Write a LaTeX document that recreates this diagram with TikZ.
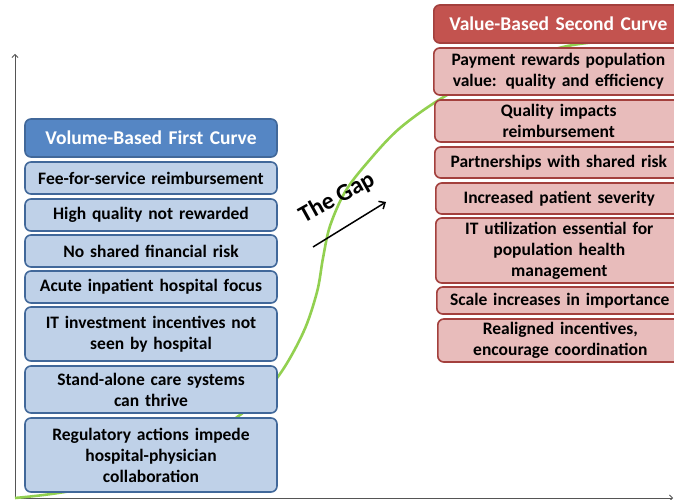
\documentclass[tikz,border=0pt]{standalone}
\usepackage{fontspec}
\setmainfont{Carlito}
\usetikzlibrary{arrows.meta}
\definecolor{bluehead}{HTML}{5586C4}
\definecolor{blueedge}{HTML}{41689A}
\definecolor{bluefill}{HTML}{BFD1E8}
\definecolor{redhead}{HTML}{C3534F}
\definecolor{rededge}{HTML}{A3403D}
\definecolor{redfill}{HTML}{E8BCBB}
\definecolor{curvegreen}{HTML}{92D050}
\definecolor{axisgray}{HTML}{555555}
\tikzset{
  box/.style={draw, rounded corners=6pt, line width=1.6pt, align=center, inner sep=0pt,
    font=\bfseries\fontsize{17.5}{21}\selectfont, text=black},
  lbox/.style={box, draw=blueedge, fill=bluefill, minimum width=252pt, text width=248pt},
  lhead/.style={lbox, fill=bluehead, text=white, font=\bfseries\fontsize{19.5}{22}\selectfont},
  rbox/.style={box, draw=rededge, fill=redfill, anchor=west},
  rhead/.style={rbox, fill=redhead, text=white, font=\bfseries\fontsize{19.5}{22}\selectfont},
  axis/.style={draw=axisgray, line width=0.8pt, -{Straight Barb[length=3pt,width=6pt]}},
}
\begin{document}
\begin{tikzpicture}[x=1pt,y=-1pt]
\useasboundingbox (0,0) rectangle (674,500);
\fill[white] (0,0) rectangle (674,500);
% axes
\coordinate (o) at (15,498);
\coordinate (ytop) at (15,54);
\coordinate (xend) at (673,498);
\draw[axis] (o) -- (ytop);
\draw[axis] (o) -- (xend);
% S-curve
\draw[curvegreen, line width=2.6pt] plot[smooth, tension=0.55] coordinates {
 (15,498) (80,489) (160,463) (240,415) (277,378) (303,333) (317,292)
 (323,258) (330,226) (345,192) (367,163) (400,128) (447,95) (505,67) (563,47) (620,40) (690,36)};
% left column
\node[lhead, minimum height=38pt] (lh) at (151,138) {Volume-Based First Curve};
\node[lbox, minimum height=32pt] (l1) at (151,178) {Fee-for-service reimbursement};
\node[lbox, minimum height=32pt] (l2) at (151,215) {High quality not rewarded};
\node[lbox, minimum height=32pt] (l3) at (151,251) {No shared financial risk};
\node[lbox, minimum height=32pt] (l4) at (151,287) {Acute inpatient hospital focus};
\node[lbox, minimum height=54pt] (l5) at (151,334) {IT investment incentives not\\seen by hospital};
\node[lbox, minimum height=47pt] (l6) at (151,389.5) {Stand-alone care systems\\can thrive};
\node[lbox, minimum height=74pt] (l7) at (151,455) {Regulatory actions impede\\hospital-physician\\collaboration};
% right column
\node[rhead, minimum height=38pt, minimum width=249pt, text width=245pt] (rh) at (433,24) {Value-Based Second Curve};
\node[rbox, minimum height=47pt, minimum width=249pt, text width=245pt] (r1) at (433,71.5) {Payment rewards population\\value: quality and efficiency};
\node[rbox, minimum height=42pt, minimum width=248pt, text width=244pt] (r2) at (434,121) {Quality impacts\\reimbursement};
\node[rbox, minimum height=31pt, minimum width=248pt, text width=244pt] (r3) at (434,162.5) {Partnerships with shared risk};
\node[rbox, minimum height=31pt, minimum width=247pt, text width=243pt] (r4) at (435,198.5) {Increased patient severity};
\node[rbox, minimum height=65pt, minimum width=247pt, text width=243pt] (r5) at (435,250.5) {IT utilization essential for\\population health\\management};
\node[rbox, minimum height=27pt, minimum width=246pt, text width=242pt] (r6) at (436,300.5) {Scale increases in importance};
\node[rbox, minimum height=43pt, minimum width=245pt, text width=241pt] (r7) at (437,340.5) {Realigned incentives,\\encourage coordination};
% the gap
\node[font=\bfseries\fontsize{24}{26}\selectfont, rotate=29, inner sep=0pt] (gap) at (337,198) {The Gap};
\coordinate (ga) at (313,247);
\coordinate (gb) at (386,202);
\draw[line width=1.5pt, -{Straight Barb[length=5pt,width=9pt]}] (ga) -- (gb);
\end{tikzpicture}
\end{document}
